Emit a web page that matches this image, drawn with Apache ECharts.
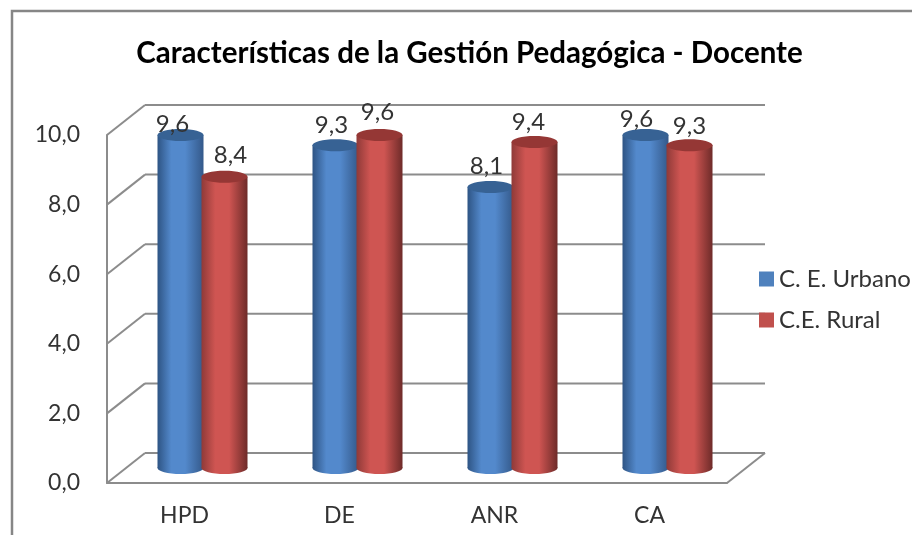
<!DOCTYPE html>
<html>
<head>
<meta charset="utf-8">
<style>
  html, body { margin: 0; padding: 0; background: #fff; overflow: hidden; }
  #chart { width: 912px; height: 535px; }
</style>
<script src="https://cdn.jsdelivr.net/npm/echarts@6/dist/echarts.min.js"></script>
</head>
<body>
<div id="chart"></div>
<script>
const categories = ["HPD", "DE", "ANR", "CA"];
const urbano = [9.6, 9.3, 8.1, 9.6];
const rural = [8.4, 9.6, 9.4, 9.3];
const yTicks = [0, 2, 4, 6, 8, 10];

// hand placed data labels, the original does not center them over the bars
const urbanoLabelShift = [[-3, 8], [1, -1], [1, -2], [-4, 3]];
const ruralLabelShift = [[1, -2], [-7, -4], [-11, -1], [-5, 0]];

const FONT = "Lato";
const TEXT = "#333333";
const WALL = "#8c8c8c";
// 3D look: distance from the front axes to the back wall
const DEPTH_X = 38;
const DEPTH_Y = -30;
const RX = 23;
const RY = 6;

const fmt = (v) => v.toFixed(1).replace(".", ",");

function bodyFill(edgeL, mid, edgeR) {
  return {
    type: "linear", x: 0, y: 0, x2: 1, y2: 0,
    colorStops: [
      { offset: 0, color: edgeL },
      { offset: 0.3, color: mid },
      { offset: 0.6, color: mid },
      { offset: 1, color: edgeR },
    ],
  };
}

function cylinderSeries(name, values, labelShift, side, color, fill, topColor) {
  return {
    type: "custom",
    name,
    z: 3,
    itemStyle: { color },
    data: values.map((v, i) => [i, v]),
    renderItem(params, api) {
      const top = api.coord([api.value(0), api.value(1)]);
      const base = api.coord([api.value(0), 0]);
      const shift = labelShift[params.dataIndex];
      // cylinders stand halfway between the front axis and the back wall
      const cx = base[0] + DEPTH_X / 2 - 1 + side * 22;
      const yTop = top[1] + DEPTH_Y / 2 + 1;
      const yBase = base[1] + DEPTH_Y / 2;
      return {
        type: "group",
        children: [
          { type: "ellipse", shape: { cx, cy: yBase, rx: RX, ry: RY }, style: { fill } },
          { type: "rect", shape: { x: cx - RX, y: yTop, width: RX * 2, height: yBase - yTop }, style: { fill } },
          { type: "ellipse", shape: { cx, cy: yTop, rx: RX, ry: RY }, style: { fill: topColor } },
          {
            type: "text",
            z2: 10,
            style: {
              text: fmt(api.value(1)),
              x: cx + side * 5 + shift[0],
              y: yTop - 19 + shift[1],
              align: "center",
              verticalAlign: "middle",
              font: "24px " + FONT,
              fill: TEXT,
            },
          },
        ],
      };
    },
  };
}

const chart = echarts.init(document.getElementById("chart"), null, { renderer: "canvas" });

chart.setOption({
  animation: false,
  backgroundColor: "#ffffff",
  title: {
    text: "Características de la Gestión Pedagógica - Docente",
    left: 464.5,
    top: 33,
    textAlign: "center",
    textStyle: { fontFamily: FONT, fontSize: 29.5, fontWeight: "bold", color: "#000000" },
  },
  legend: {
    orient: "vertical",
    left: 759,
    top: 267,
    padding: 0,
    itemWidth: 15,
    itemHeight: 15,
    itemGap: 17,
    icon: "rect",
    data: ["C. E. Urbano", "C.E. Rural"],
    textStyle: { fontFamily: FONT, fontSize: 24, color: TEXT },
  },
  grid: { left: 107, right: 185, top: 135, bottom: 52 },
  xAxis: {
    type: "category",
    data: categories,
    axisTick: { show: false },
    axisLine: { lineStyle: { color: WALL, width: 2 } },
    axisLabel: { fontFamily: FONT, fontSize: 23, color: TEXT, margin: 21 },
  },
  yAxis: {
    type: "value",
    min: 0,
    max: 10,
    interval: 2,
    splitLine: { show: false },
    axisTick: { show: false },
    axisLine: { show: true, lineStyle: { color: WALL, width: 2 } },
    axisLabel: { fontFamily: FONT, fontSize: 23, color: TEXT, margin: 27, formatter: fmt },
  },
  graphic: [
    {
      type: "polyline",
      z: -1,
      shape: { points: [[12, 535], [12, 11], [912, 11]] },
      style: { fill: null, stroke: "#868686", lineWidth: 2.5 },
    },
  ],
  series: [
    {
      type: "custom",
      z: 1,
      silent: true,
      data: yTicks.map((t) => [t]),
      encode: { y: 0 },
      renderItem(params, api) {
        const v = api.value(0);
        const left = api.coord([0, v]);
        const right = api.coord([categories.length - 1, v]);
        const xEnd = right[0] + api.size([1, 0])[0] / 2 + DEPTH_X;
        const xStart = left[0] - api.size([1, 0])[0] / 2;
        const y = left[1];
        const style = { stroke: WALL, lineWidth: 2, fill: null };
        const children = [
          { type: "line", shape: { x1: xStart, y1: y, x2: xStart + DEPTH_X, y2: y + DEPTH_Y }, style },
          { type: "line", shape: { x1: xStart + DEPTH_X, y1: y + DEPTH_Y, x2: xEnd, y2: y + DEPTH_Y }, style },
        ];
        if (v === 0) {
          children.push({ type: "line", shape: { x1: xEnd - DEPTH_X, y1: y, x2: xEnd, y2: y + DEPTH_Y }, style });
        }
        return { type: "group", children };
      },
    },
    cylinderSeries("C. E. Urbano", urbano, urbanoLabelShift, -1, "#4f81bd", bodyFill("#2e5484", "#5389cc", "#34598a"), "#376294"),
    cylinderSeries("C.E. Rural", rural, ruralLabelShift, 1, "#c0504d", bodyFill("#8f3a38", "#cf5552", "#6e2b29"), "#953735"),
  ],
});
</script>
</body>
</html>
